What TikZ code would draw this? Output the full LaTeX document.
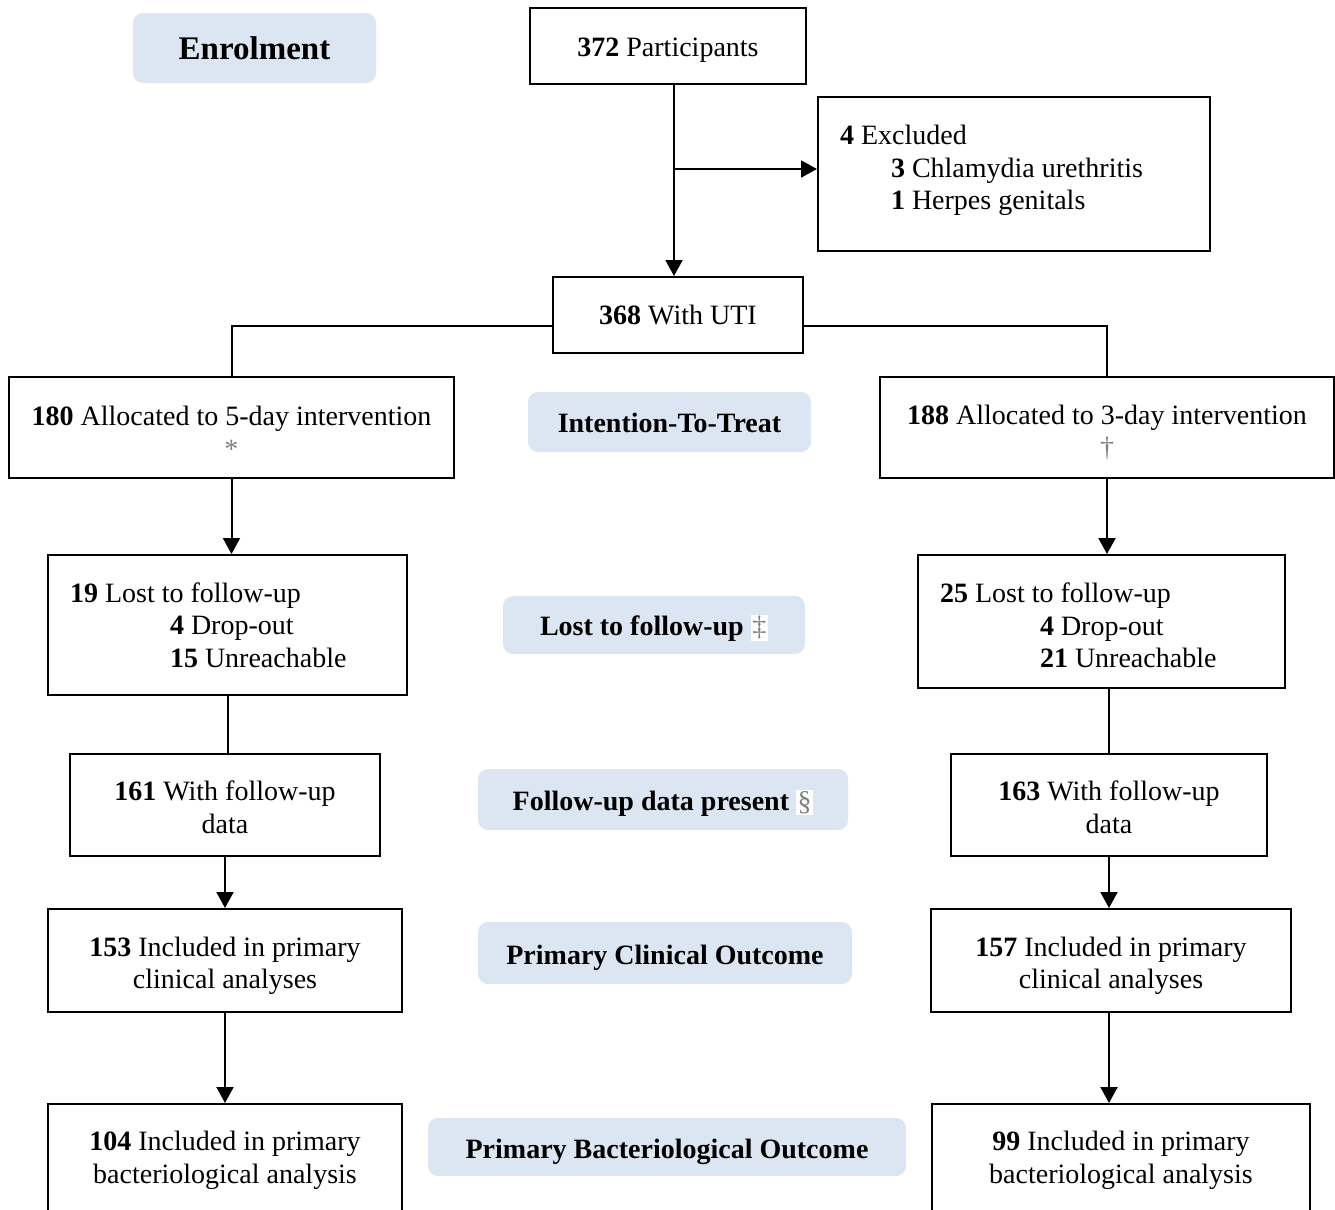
\documentclass[tikz,border=0pt]{standalone}
\usepackage{fontspec}
\setmainfont{Liberation Serif}
\usepackage{tikz}
\usetikzlibrary{positioning,arrows.meta}
\definecolor{stagebg}{HTML}{DCE6F2}
\definecolor{symgray}{HTML}{808080}
\newcommand{\symb}[1]{{\setlength{\fboxsep}{0.8pt}\colorbox{white}{\textcolor{symgray}{\mdseries #1}}}}
% struts to nudge text inside a box (extra height on top / depth below)
\newcommand{\tpad}[1]{\rule{0pt}{\dimexpr 9.7pt+#1\relax}}
\newcommand{\bpad}[1]{\rule[-\dimexpr 3pt+#1\relax]{0pt}{0pt}}

\begin{document}
\begin{tikzpicture}[
  x=0.5pt, y=-0.5pt,
  font=\fontsize{14}{16.3}\selectfont,
  box/.style={draw, line width=1pt, align=center, inner sep=0pt},
  lbox/.style={box, align=flush left, inner xsep=11pt},
  stage/.style={fill=stagebg, rounded corners=5pt, inner sep=0pt,
    font=\fontsize{14}{16.3}\selectfont\bfseries},
  arr/.style={-{Triangle[length=8pt,width=8.5pt]}, line width=1pt},
  ln/.style={line width=1pt}
]
  \useasboundingbox (0,0) rectangle (1335,1210);

  % Stage labels (middle column)
  \node[stage, minimum width=121.5pt, minimum height=35pt,
    font=\fontsize{16.5}{19}\selectfont\bfseries] (enrol) at (254.5,48) {Enrolment};
  \node[stage, minimum width=141.5pt, minimum height=30pt] (itt) at (669.5,422) {\tpad{1pt}Intention-To-Treat};
  \node[stage, minimum width=151pt, minimum height=29pt] (lostlbl) at (654,625) {\tpad{4pt}Lost to follow-up \symb{‡}};
  \node[stage, minimum width=185pt, minimum height=30.5pt] (fulbl) at (663,799.5) {\tpad{4pt}Follow-up data present \symb{§}};
  \node[stage, minimum width=187pt, minimum height=31pt] (clinlbl) at (665,953) {\tpad{5pt}Primary Clinical Outcome};
  \node[stage, minimum width=239pt, minimum height=29pt] (bactlbl) at (667,1147) {\tpad{5pt}Primary Bacteriological Outcome};

  % Enrolment
  \node[box, minimum width=138pt, minimum height=38pt] (part) at (668,46) {\tpad{4pt}\textbf{372} Participants};
  \node[lbox, text width=174pt, minimum height=77pt] (excl) at (1014,174)
    {\textbf{4} Excluded\\
     \hspace*{25.5pt}\textbf{3} Chlamydia urethritis\\
     \hspace*{25.5pt}\textbf{1} Herpes genitals\bpad{3.5pt}};
  \node[box, minimum width=125pt, minimum height=38pt] (uti) at (678,315) {\textbf{368} With UTI};
  \coordinate (split) at (674,169);

  % Allocation
  \node[box, minimum width=222.5pt, minimum height=50.5pt] (alloc5) at (231.5,427.5)
    {\tpad{5pt}\textbf{180} Allocated to 5-day intervention\\ \textcolor{symgray}{*}};
  \node[box, minimum width=227pt, minimum height=50.5pt] (alloc3) at (1107,427.5)
    {\tpad{5pt}\textbf{188} Allocated to 3-day intervention\\ \textcolor{symgray}{†}};

  % Lost to follow-up
  \node[lbox, text width=157.5pt, minimum height=70pt] (lost5) at (227.5,625)
    {\textbf{19} Lost to follow-up\\
     \hspace*{50pt}\textbf{4} Drop-out\\
     \hspace*{50pt}\textbf{15} Unreachable};
  \node[lbox, text width=161.5pt, minimum height=66.5pt] (lost3) at (1101.5,621.5)
    {\tpad{4pt}\textbf{25} Lost to follow-up\\
     \hspace*{50pt}\textbf{4} Drop-out\\
     \hspace*{50pt}\textbf{21} Unreachable};

  % Follow-up data and analyses
  \node[box, minimum width=155pt, minimum height=51pt] (fu5) at (225,805) {\tpad{2.5pt}\textbf{161} With follow-up\\data};
  \node[box, minimum width=158pt, minimum height=51pt] (fu3) at (1109,805) {\tpad{2.5pt}\textbf{163} With follow-up\\data};
  \node[box, minimum width=177pt, minimum height=51.5pt] (clin5) at (225,960.5)
    {\tpad{5.5pt}\textbf{153} Included in primary\\clinical analyses};
  \node[box, minimum width=180pt, minimum height=51.5pt] (clin3) at (1111,960.5)
    {\tpad{5.5pt}\textbf{157} Included in primary\\clinical analyses};
  \node[box, minimum width=177pt, minimum height=56pt] (bact5) at (225,1160)
    {\textbf{104} Included in primary\\bacteriological analysis};
  \node[box, minimum width=189pt, minimum height=56pt] (bact3) at (1121,1160)
    {\textbf{99} Included in primary\\bacteriological analysis};

  % Connectors
  \draw[arr] (part.south -| split) -- (uti.north -| split);
  \draw[arr] (split) -- (split -| excl.west);
  \draw[ln] ([yshift=-5.5pt]uti.west) -| (alloc5.north);
  \draw[ln] ([yshift=-5.5pt]uti.east) -| (alloc3.north);
  \draw[arr] (alloc5.south) -- (alloc5.south |- lost5.north);
  \draw[arr] (alloc3.south) -- (alloc3.south |- lost3.north);
  \draw[ln] (lost5.south) -- (lost5.south |- fu5.north);
  \draw[ln] (fu3.north |- lost3.south) -- (fu3.north);
  \draw[arr] (fu5.south) -- (clin5.north);
  \draw[arr] (fu3.south) -- (fu3.south |- clin3.north);
  \draw[arr] (clin5.south) -- (bact5.north);
  \draw[arr] (fu3.south |- clin3.south) -- (fu3.south |- bact3.north);
\end{tikzpicture}
\end{document}
